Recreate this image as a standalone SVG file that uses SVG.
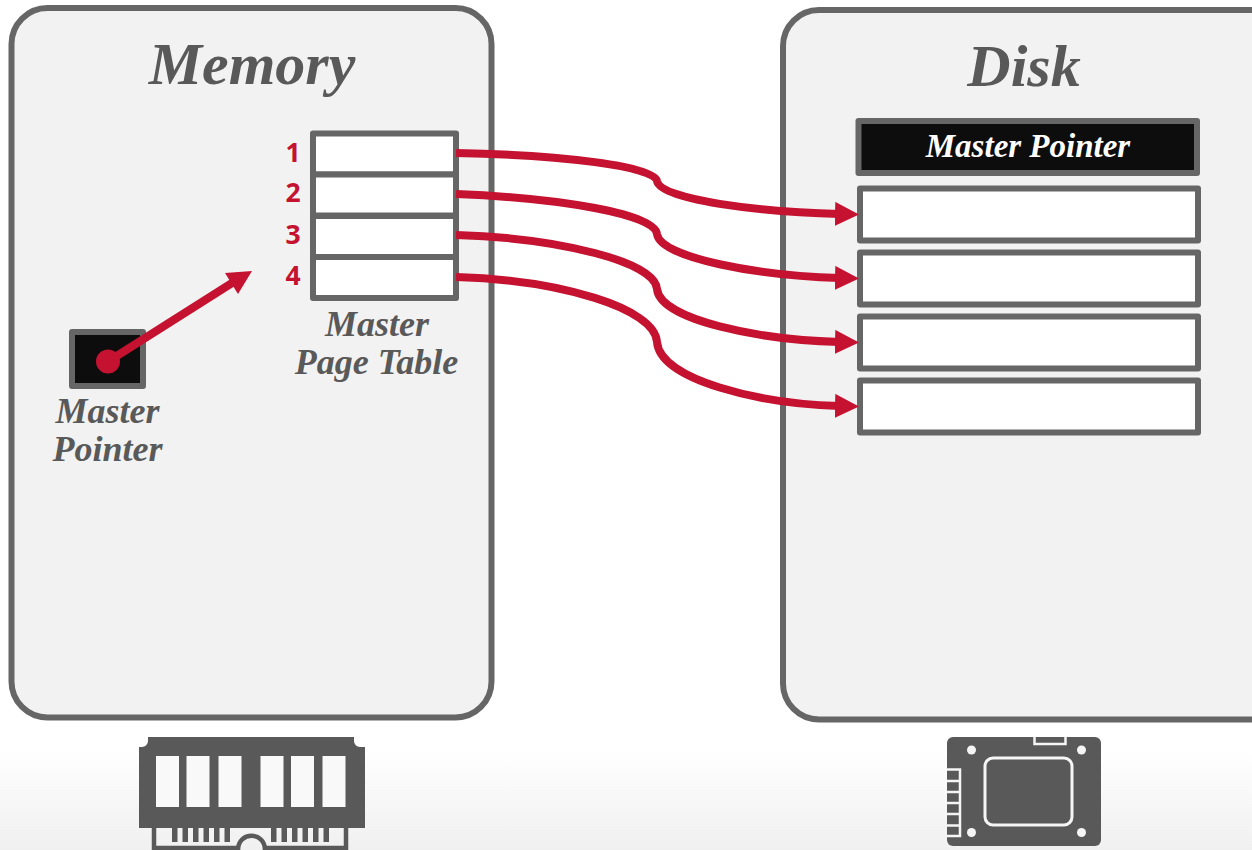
<svg xmlns="http://www.w3.org/2000/svg" width="1252" height="850" viewBox="0 0 1252 850">
<style>
.panel{fill:#f2f2f2;stroke:#666;stroke-width:6}
.cell{fill:#fff;stroke:#666;stroke-width:6;stroke-linejoin:round}
.dark{fill:#0d0d0d;stroke:#666;stroke-width:6;stroke-linejoin:round}
.serif{font-family:"Liberation Serif","DejaVu Serif",serif;font-style:italic;font-weight:700;fill:#595959}
.lab{font-size:36px;text-anchor:middle}
.num{font-family:"Open Sans","Noto Sans",sans-serif;font-weight:700;font-size:26.500px;fill:#c41230;text-anchor:middle}
.wire{fill:none;stroke:#c41230;stroke-width:8}
.icon{fill:#595959}
</style>
<defs>
<linearGradient id="bg" x1="0" y1="0" x2="0" y2="1"><stop offset="0" stop-color="#fff"/><stop offset="1" stop-color="#f0f0f0"/></linearGradient>
<marker id="ah" markerUnits="userSpaceOnUse" markerWidth="26" markerHeight="26" refX="5" refY="12" orient="auto"><path d="M0 0L24 12L0 24Z" fill="#c41230"/></marker>
</defs>
<rect width="1252" height="850" fill="#fff"/>
<rect y="750" width="1252" height="100" fill="url(#bg)"/>
<g id="memory">
<rect class="panel" x="11.500" y="8" width="480" height="709.500" rx="36"/>
<text class="serif" x="252" y="84" font-size="60" text-anchor="middle">Memory</text>
</g>
<g id="disk">
<rect class="panel" x="783" y="10" width="506" height="709.500" rx="36"/>
<text class="serif" x="1024" y="86" font-size="60" text-anchor="middle">Disk</text>
</g>
<g id="master-page-table">
<rect class="cell" x="313" y="133.500" width="143" height="41"/>
<rect class="cell" x="313" y="174.500" width="143" height="41"/>
<rect class="cell" x="313" y="216" width="143" height="41"/>
<rect class="cell" x="313" y="257" width="143" height="41"/>
<text class="num" x="293" y="161.500">1</text>
<text class="num" x="293" y="202">2</text>
<text class="num" x="293" y="244">3</text>
<text class="num" x="293" y="285">4</text>
<text class="serif lab" x="377" y="336">Master</text>
<text class="serif lab" x="376.500" y="374">Page Table</text>
</g>
<g id="master-pointer">
<rect class="dark" x="72" y="332" width="71" height="54"/>
<text class="serif lab" x="107.500" y="423">Master</text>
<text class="serif lab" x="107.500" y="461">Pointer</text>
</g>
<g id="disk-header">
<rect class="dark" x="858.500" y="121" width="338.500" height="52"/>
<text class="serif" x="1028" y="157" font-size="33" text-anchor="middle" style="fill:#fff">Master Pointer</text>
</g>
<g id="disk-page-1"><rect class="cell" x="860" y="188.500" width="338" height="52"/></g>
<g id="disk-page-2"><rect class="cell" x="860" y="252.500" width="338" height="52"/></g>
<g id="disk-page-3"><rect class="cell" x="860" y="316.500" width="338" height="52"/></g>
<g id="disk-page-4"><rect class="cell" x="860" y="380.500" width="338" height="52"/></g>
<g id="connectors">
<circle cx="108" cy="361.500" r="12" fill="#c41230"/>
<path class="wire" d="M108 361.500L232 283"/>
<path d="M252 271L238 294L225 273Z" fill="#c41230"/>
<path class="wire" marker-end="url(#ah)" d="M456 153C560 155 655 166 657 181C660 200 760 212 840 214"/>
<path class="wire" marker-end="url(#ah)" d="M456 194C560 198 655 214 657 234C660 258 760 276 840 278"/>
<path class="wire" marker-end="url(#ah)" d="M456 235C560 238 655 262 657 289C660 320 760 340 840 342"/>
<path class="wire" marker-end="url(#ah)" d="M456 277C560 280 655 308 657 342C660 380 760 404 840 406"/>
</g>
<g id="ram-icon">
<path class="icon" d="M148 737H354V741C354 744 357 747 360 747H365V828H139V747H142C145 747 148 744 148 741Z"/>
<g fill="#f9f9f9">
<rect x="156" y="756" width="23" height="51"/><rect x="186.500" y="756" width="23" height="51"/><rect x="218.500" y="756" width="23" height="51"/>
<rect x="260.500" y="756" width="23" height="51"/><rect x="291" y="756" width="23" height="51"/><rect x="322.500" y="756" width="23" height="51"/>
</g>
<path fill="none" stroke="#595959" stroke-width="4.500" d="M154 828V850M346 828V850M154 848H237M266 848H346"/>
<path fill="none" stroke="#595959" stroke-width="4.500" d="M238 850C238 831 265 831 265 850"/>
<path class="icon" d="M172 828h5.500v14h-5.500zM182.500 828h5.500v14h-5.500zM193 828h5.500v14h-5.500zM203.500 828h5.500v14h-5.500zM214 828h5.500v14h-5.500zM224.500 828h5.500v14h-5.500zM271 828h5.500v14h-5.500zM281.500 828h5.500v14h-5.500zM292 828h5.500v14h-5.500zM302.500 828h5.500v14h-5.500zM313 828h5.500v14h-5.500zM323.500 828h5.500v14h-5.500z"/>
</g>
<g id="ssd-icon">
<rect class="icon" x="947" y="737" width="154" height="109" rx="6"/>
<rect x="985" y="758" width="87" height="67" rx="8" fill="none" stroke="#f5f5f5" stroke-width="3"/>
<g fill="#f5f5f5"><circle cx="971.500" cy="750" r="4.500"/><circle cx="1081.500" cy="750" r="4.500"/><circle cx="971.500" cy="832.500" r="4.500"/><circle cx="1081.500" cy="832.500" r="4.500"/></g>
<path fill="none" stroke="#f5f5f5" stroke-width="2.500" d="M1034.500 737V744H1065.500V737M947 769.500H960V836H947M947 781H960M947 792H960M947 803H960M947 814H960M947 825.500H960"/>
</g>
</svg>
